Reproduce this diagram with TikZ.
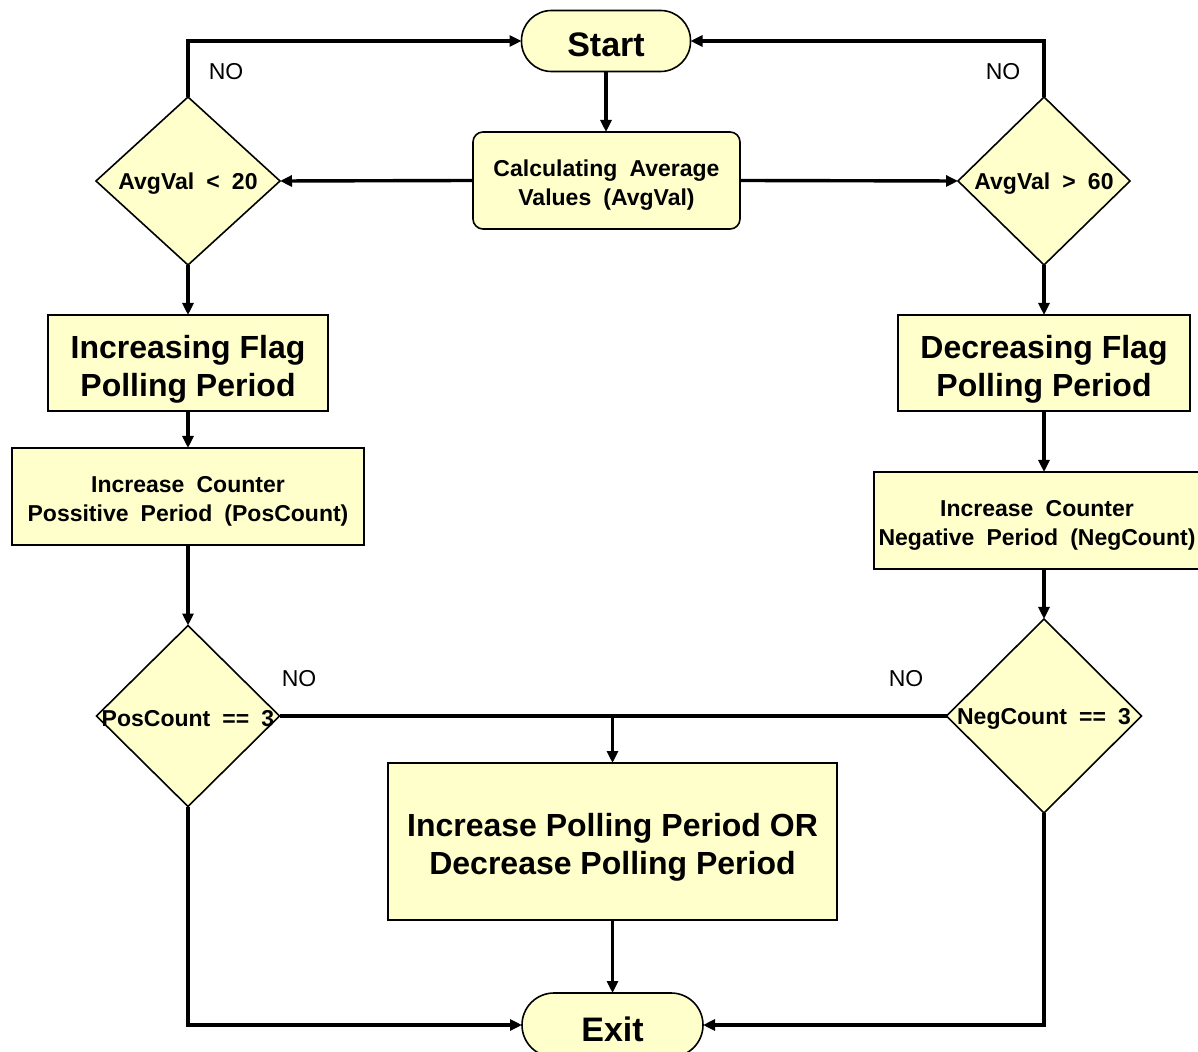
\documentclass[tikz,border=0pt]{standalone}
\usepackage{fontspec}
\setmainfont{Liberation Sans}
\newfontfamily\wfont{Liberation Sans}[WordSpace=1.9]
\usetikzlibrary{shapes.geometric,arrows.meta}
\definecolor{boxfill}{HTML}{FFFFCC}
\begin{document}
\begin{tikzpicture}[x=0.5pt,y=-0.5pt,
 box/.style={draw=black,fill=boxfill,line width=0.8pt,inner sep=0pt,outer sep=0pt},
 pill/.style={box,rounded corners=15pt,minimum width=84.5pt,minimum height=30.5pt},
 pillt/.style={font=\fontsize{17}{20}\selectfont\bfseries,yshift=-2pt},
 bigt/.style={font=\fontsize{16}{19}\selectfont\bfseries,align=center,yshift=-3pt},
 smallt/.style={font=\wfont\fontsize{11.5}{14.5}\selectfont\bfseries,align=center,yshift=-2.5pt},
 dia/.style={diamond,draw=black,fill=boxfill,line width=0.8pt,inner sep=0pt,outer sep=0pt},
 conn/.style={line width=1.7pt,-{Triangle[length=6pt,width=5.5pt]}},
 lin/.style={line width=1.7pt},
 nolab/.style={font=\fontsize{11.5}{14}\selectfont}
]
\useasboundingbox (0,0) rectangle (1198,1052);
\node[pill] (start) at (606,41) {};
\node[pillt] (startt) at (start) {Start};
\node[box,rounded corners=5pt,minimum width=133.5pt,minimum height=48.5pt] (calc) at (606.5,180.5) {};
\node[smallt] (calct) at (calc) {Calculating Average\\Values (AvgVal)};
\node[dia,minimum width=92pt,minimum height=84pt] (d1) at (188,181) {};
\node[smallt,yshift=1pt] (t1) at (d1) {AvgVal < 20};
\node[dia,minimum width=86pt,minimum height=84pt] (d2) at (1044,181) {};
\node[smallt,yshift=1pt] (t2) at (d2) {AvgVal > 60};
\node[box,minimum width=140pt,minimum height=48pt] (inc) at (188,363) {};
\node[bigt] (inct) at (inc) {Increasing Flag\\Polling Period};
\node[box,minimum width=146pt,minimum height=48pt] (dec) at (1044,363) {};
\node[bigt] (dect) at (dec) {Decreasing Flag\\Polling Period};
\node[box,minimum width=176pt,minimum height=48.5pt] (cp) at (188,496.5) {};
\node[smallt] (cpt) at (cp) {Increase Counter\\Possitive Period (PosCount)};
\node[box,minimum width=170pt,minimum height=48.5pt] (cn) at (1044,520.5) {};
\node[smallt,xshift=-3.5pt] (cnt) at (cn) {Increase Counter\\Negative Period (NegCount)};
\node[dia,minimum width=91.5pt,minimum height=90.5pt] (d3) at (188,716) {};
\node[smallt,yshift=1pt] (t3) at (d3) {PosCount == 3};
\node[dia,minimum width=97.5pt,minimum height=97pt] (d4) at (1044,716) {};
\node[smallt,yshift=1pt] (t4) at (d4) {NegCount == 3};
\node[box,minimum width=224.5pt,minimum height=78.5pt] (big) at (612.5,841.5) {};
\node[bigt] (bigtxt) at (big) {Increase Polling Period OR\\Decrease Polling Period};
\node[pill,minimum width=90.5pt,minimum height=32pt,rounded corners=16pt] (exit) at (612.5,1025) {};
\node[pillt] (exitt) at (exit) {Exit};
\node[nolab] (no1) at (226,72) {NO};
\node[nolab] (no2) at (1003,72) {NO};
\node[nolab] (no3) at (299,679) {NO};
\node[nolab] (no4) at (906,679) {NO};
\draw[conn] (start.south) -- (start.south |- calc.north);
\draw[conn] (calc.west) -- (d1.east);
\draw[conn] (calc.east) -- (d2.west);
\draw[conn] (d1.north) |- (start.west);
\draw[conn] (d2.north) |- (start.east);
\draw[conn] (d1.south) -- (inc.north);
\draw[conn] (d2.south) -- (dec.north);
\draw[conn] (inc.south) -- (cp.north);
\draw[conn] (dec.south) -- (cn.north);
\draw[conn] (cp.south) -- (d3.north);
\draw[conn] (cn.south) -- (d4.north);
\draw[lin] (d3.east) -- (d4.west);
\draw[conn] (d3.east -| big.north) -- (big.north);
\draw[conn] (big.south) -- (exit.north);
\draw[conn] (d3.south) |- (exit.west);
\draw[conn] (d4.south) |- (exit.east);
\end{tikzpicture}
\end{document}
